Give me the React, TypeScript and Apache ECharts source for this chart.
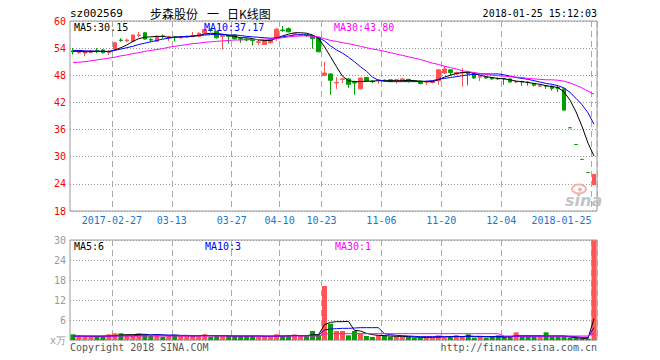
import React, { useEffect, useRef } from "react";
import * as echarts from "echarts";

const dates = [
  "2017-02-16", "2017-02-17", "2017-02-20", "2017-02-21", "2017-02-22", "2017-02-23", "2017-02-24", "2017-02-27",
  "2017-02-28", "2017-03-01", "2017-03-02", "2017-03-03", "2017-03-06", "2017-03-07", "2017-03-08", "2017-03-09",
  "2017-03-10", "2017-03-13", "2017-03-14", "2017-03-15", "2017-03-16", "2017-03-17", "2017-03-20", "2017-03-21",
  "2017-03-22", "2017-03-23", "2017-03-24", "2017-03-27", "2017-03-28", "2017-03-29", "2017-03-30", "2017-03-31",
  "2017-04-05", "2017-04-06", "2017-04-07", "2017-04-10", "2017-04-11", "2017-04-12", "2017-04-13", "2017-04-14",
  "2017-04-17", "2017-04-18", "2017-10-23", "2017-10-24", "2017-10-25", "2017-10-26", "2017-10-27", "2017-10-30",
  "2017-10-31", "2017-11-01", "2017-11-02", "2017-11-03", "2017-11-06", "2017-11-07", "2017-11-08", "2017-11-09",
  "2017-11-10", "2017-11-13", "2017-11-14", "2017-11-15", "2017-11-16", "2017-11-17", "2017-11-20", "2017-11-21",
  "2017-11-22", "2017-11-23", "2017-11-24", "2017-11-27", "2017-11-28", "2017-11-29", "2017-11-30", "2017-12-01",
  "2017-12-04", "2017-12-05", "2017-12-06", "2017-12-07", "2017-12-08", "2017-12-11", "2017-12-12", "2017-12-13",
  "2017-12-14", "2017-12-15", "2018-01-18", "2018-01-19", "2018-01-22", "2018-01-23", "2018-01-24", "2018-01-25",
];

const tickIndex = [7, 17, 27, 35, 42, 52, 62, 72, 87];
const tickLabels = ["2017-02-27", "03-13", "03-27", "04-10", "10-23", "11-06", "11-20", "12-04", "2018-01-25"];

// [open, close, low, high]
const ohlc = [
  [53.4, 53.2, 52.6, 54.0], [53.0, 53.3, 52.8, 53.5], [52.9, 53.2, 52.2, 53.4], [53.1, 53.3, 52.9, 53.6],
  [53.5, 53.4, 52.9, 54.0], [53.6, 53.0, 52.8, 53.8], [53.1, 53.2, 52.5, 53.5], [53.8, 55.2, 53.6, 55.4],
  [55.8, 55.7, 55.4, 56.2], [55.6, 55.8, 55.3, 56.1], [55.5, 56.9, 55.3, 57.0], [56.8, 56.9, 56.4, 57.6],
  [57.4, 56.0, 55.9, 57.5], [55.9, 55.8, 55.4, 56.2], [55.5, 56.6, 55.4, 56.8], [56.7, 56.6, 56.1, 57.0],
  [56.4, 56.5, 55.6, 56.7], [56.5, 56.4, 55.5, 56.7], [56.3, 56.5, 56.1, 56.7], [56.5, 56.6, 56.3, 56.8],
  [56.7, 56.8, 56.5, 57.6], [56.6, 57.3, 56.5, 57.5], [57.3, 58.1, 57.2, 58.3], [58.0, 57.9, 57.6, 58.4],
  [57.7, 56.3, 56.1, 57.8], [56.6, 56.8, 53.7, 57.0], [56.8, 56.6, 55.0, 57.0], [56.9, 56.1, 55.9, 57.0],
  [56.1, 56.0, 55.2, 56.5], [56.0, 55.8, 55.5, 56.2], [55.8, 55.7, 54.6, 56.0], [55.3, 55.4, 54.7, 55.8],
  [54.8, 55.6, 54.7, 55.8], [55.2, 56.0, 55.0, 56.1], [56.2, 58.2, 55.6, 58.4], [58.0, 57.9, 57.6, 58.9],
  [58.3, 57.6, 57.5, 58.6], [57.1, 57.2, 56.9, 57.4], [56.9, 57.0, 56.6, 57.1], [57.0, 56.8, 56.5, 57.1],
  [56.6, 56.1, 53.9, 56.7], [56.3, 53.2, 53.1, 56.5], [48.0, 48.5, 47.9, 51.0], [48.3, 46.9, 43.7, 48.4],
  [46.3, 46.4, 45.0, 47.6], [47.1, 47.2, 46.3, 47.3], [47.2, 46.0, 45.2, 47.3], [46.4, 46.3, 43.7, 46.8],
  [45.0, 47.4, 44.9, 47.5], [47.5, 46.7, 46.5, 47.6], [46.7, 46.6, 46.3, 46.9], [46.9, 47.0, 46.1, 47.1],
  [46.9, 46.8, 46.6, 47.1], [47.0, 46.6, 46.5, 47.1], [46.9, 47.0, 46.2, 47.1], [46.8, 47.2, 46.6, 47.3],
  [47.1, 46.8, 46.4, 47.2], [46.8, 46.7, 46.5, 46.9], [46.7, 46.2, 46.0, 46.8], [46.5, 46.6, 45.9, 46.8],
  [46.4, 46.7, 46.2, 46.8], [46.8, 49.2, 45.9, 49.3], [48.5, 49.4, 48.3, 50.1], [49.2, 48.6, 47.9, 49.3],
  [48.3, 48.6, 48.1, 48.8], [48.5, 48.6, 45.5, 49.6], [48.7, 48.4, 45.8, 49.0], [48.5, 47.4, 47.2, 48.6],
  [47.6, 47.7, 46.7, 47.9], [47.6, 47.4, 47.2, 47.8], [47.5, 47.2, 47.0, 47.6], [47.3, 47.2, 47.0, 47.5],
  [47.3, 47.2, 45.9, 47.4], [47.2, 46.5, 46.4, 47.3], [46.5, 46.6, 46.3, 46.9], [46.6, 46.5, 45.7, 46.8],
  [46.5, 46.4, 45.7, 46.7], [46.2, 45.8, 45.5, 46.3], [45.6, 45.7, 45.4, 46.0], [45.7, 45.6, 45.0, 45.8],
  [45.6, 45.1, 44.6, 45.7], [45.3, 45.0, 44.3, 45.7], [45.0, 40.3, 40.2, 45.1], [36.4, 36.4, 36.4, 36.4],
  [32.7, 32.7, 32.7, 32.7], [29.4, 29.4, 29.4, 29.4], [26.5, 26.5, 26.5, 26.5], [23.8, 26.1, 23.8, 26.1],
];

const ma5 = [
  53.3, 53.3, 53.2, 53.2, 53.3, 53.3, 53.2, 53.6, 54.1, 54.7, 55.5, 56.1, 56.4, 56.5, 56.6, 56.6,
  56.4, 56.4, 56.5, 56.5, 56.6, 56.8, 57.1, 57.3, 57.2, 57.1, 56.8, 56.6, 56.3, 56.3, 56.1, 55.8,
  55.7, 55.7, 56.2, 56.7, 57.1, 57.4, 57.4, 57.3, 56.9, 56.2, 54.3, 52.1, 49.9, 47.8, 46.8, 46.6,
  46.6, 46.7, 46.7, 46.8, 46.8, 46.8, 46.8, 46.8, 46.9, 46.8, 46.7, 46.6, 46.6, 47.0, 47.6, 48.0,
  48.4, 48.6, 48.7, 48.4, 48.0, 47.7, 47.5, 47.3, 47.2, 47.0, 46.7, 46.6, 46.4, 46.2, 46.0, 45.7,
  45.5, 45.3, 44.3, 42.5, 39.9, 36.7, 33.0, 30.15,
];
const ma10 = [
  53.5, 53.5, 53.4, 53.4, 53.3, 53.3, 53.3, 53.5, 53.8, 54.1, 54.4, 54.8, 55.1, 55.4, 55.7, 56.0,
  56.2, 56.4, 56.5, 56.6, 56.7, 56.8, 56.9, 57.0, 57.0, 57.0, 56.9, 56.9, 56.8, 56.6, 56.5, 56.4,
  56.3, 56.2, 56.3, 56.5, 56.7, 56.9, 57.0, 56.9, 56.8, 56.3, 55.6, 54.5, 53.6, 52.9, 52.0, 51.0,
  49.9, 48.9, 47.6, 46.9, 46.7, 46.6, 46.6, 46.6, 46.6, 46.6, 46.6, 46.7, 46.8, 47.1, 47.3, 47.5,
  47.7, 47.9, 48.1, 48.2, 48.3, 48.3, 48.3, 48.3, 48.1, 47.8, 47.5, 47.3, 47.1, 46.8, 46.5, 46.2,
  46.0, 45.7, 45.2, 44.2, 42.9, 41.5, 39.7, 37.17,
];
const ma30 = [
  50.8, 50.9, 51.0, 51.2, 51.4, 51.6, 51.8, 52.0, 52.3, 52.5, 52.8, 53.0, 53.3, 53.5, 53.7, 53.9,
  54.2, 54.4, 54.6, 54.8, 55.0, 55.1, 55.3, 55.4, 55.5, 55.6, 55.7, 55.8, 55.8, 55.9, 55.9, 55.9,
  56.0, 56.0, 56.1, 56.3, 56.5, 56.6, 56.7, 56.7, 56.6, 56.5, 56.1, 55.7, 55.5, 55.2, 55.0, 54.7,
  54.4, 54.1, 53.8, 53.6, 53.3, 53.0, 52.7, 52.4, 52.1, 51.8, 51.5, 51.1, 50.7, 50.4, 50.0, 49.7,
  49.4, 49.0, 48.8, 48.6, 48.4, 48.2, 48.0, 47.9, 47.8, 47.7, 47.6, 47.5, 47.3, 47.2, 47.1, 47.0,
  47.0, 46.9, 46.7, 46.3, 45.8, 45.2, 44.5, 43.8,
];

const volume = [
  1.7, 1.2, 1.0, 1.0, 1.0, 1.0, 1.7, 2.0, 2.0, 1.4, 1.4, 2.0, 1.6, 1.2, 1.6, 1.0,
  1.2, 1.6, 1.2, 1.2, 1.2, 1.2, 1.7, 1.0, 1.2, 1.2, 1.2, 1.2, 1.2, 1.2, 1.2, 1.0,
  1.2, 1.0, 1.7, 1.2, 1.2, 1.6, 1.2, 1.2, 2.7, 1.5, 16.2, 4.9, 2.7, 2.7, 1.4, 2.7,
  2.0, 1.2, 0.9, 1.4, 1.4, 1.0, 1.0, 1.0, 1.0, 0.7, 0.7, 1.0, 0.7, 1.4, 0.7, 1.0,
  1.4, 1.0, 1.7, 0.7, 1.0, 0.7, 1.2, 1.4, 1.0, 1.2, 2.3, 1.0, 1.0, 1.0, 1.0, 2.3,
  1.0, 1.0, 1.0, 0.7, 0.7, 0.4, 0.4, 29.9,
];
const volMa5 = [
  1.2, 1.2, 1.1, 1.1, 1.0, 1.1, 1.2, 1.3, 1.5, 1.6, 1.6, 1.7, 1.7, 1.5, 1.6, 1.5,
  1.3, 1.3, 1.3, 1.3, 1.2, 1.3, 1.4, 1.3, 1.3, 1.3, 1.2, 1.2, 1.2, 1.2, 1.2, 1.2,
  1.1, 1.1, 1.2, 1.2, 1.3, 1.4, 1.3, 1.3, 1.6, 1.6, 4.6, 5.3, 5.5, 5.5, 5.6, 2.9,
  2.7, 2.0, 1.6, 1.4, 1.3, 1.2, 1.1, 1.1, 1.0, 0.9, 0.8, 0.8, 0.8, 0.9, 0.9, 1.0,
  1.1, 1.0, 1.2, 1.1, 1.1, 1.0, 1.0, 1.0, 0.9, 1.0, 1.3, 1.3, 1.3, 1.3, 1.3, 1.2,
  1.2, 1.2, 1.2, 0.9, 0.7, 0.5, 0.5, 6.4,
];
const volMa10 = [
  1.2, 1.2, 1.2, 1.2, 1.2, 1.2, 1.2, 1.2, 1.3, 1.3, 1.3, 1.4, 1.5, 1.5, 1.6, 1.5,
  1.5, 1.5, 1.4, 1.4, 1.3, 1.3, 1.3, 1.3, 1.3, 1.3, 1.3, 1.2, 1.2, 1.2, 1.2, 1.2,
  1.2, 1.2, 1.2, 1.2, 1.2, 1.3, 1.3, 1.3, 1.4, 1.4, 3.0, 3.3, 3.4, 3.5, 3.5, 3.6,
  3.7, 3.7, 3.7, 3.7, 1.9, 1.6, 1.4, 1.3, 1.2, 1.1, 1.0, 1.0, 1.0, 1.0, 1.0, 1.0,
  1.0, 1.0, 1.1, 1.0, 1.0, 1.0, 1.0, 1.0, 1.0, 1.0, 1.1, 1.1, 1.1, 1.1, 1.1, 1.2,
  1.2, 1.2, 1.2, 1.1, 1.0, 0.8, 0.8, 3.7,
];
const volMa30 = [
  1.2, 1.2, 1.2, 1.2, 1.2, 1.2, 1.2, 1.2, 1.2, 1.2, 1.2, 1.2, 1.2, 1.2, 1.2, 1.2,
  1.2, 1.2, 1.2, 1.2, 1.2, 1.2, 1.2, 1.2, 1.2, 1.2, 1.2, 1.2, 1.2, 1.2, 1.2, 1.2,
  1.2, 1.2, 1.2, 1.2, 1.2, 1.2, 1.2, 1.2, 1.2, 1.2, 1.8, 1.9, 1.9, 1.9, 1.9, 1.9,
  1.9, 1.9, 1.9, 1.9, 1.9, 1.9, 1.9, 1.9, 1.9, 1.9, 1.9, 1.9, 1.9, 1.9, 1.9, 1.9,
  1.9, 1.9, 1.9, 1.9, 1.9, 1.9, 1.9, 1.9, 1.2, 1.2, 1.2, 1.2, 1.2, 1.2, 1.2, 1.2,
  1.2, 1.2, 1.2, 1.2, 1.2, 1.2, 1.2, 2.0,
];

const stockCode = "sz002569";
const stockName = "步森股份";
const chartKind = "日K线图";
const timestamp = "2018-01-25 15:12:03";
const priceLegend = ["MA5:30.15", "MA10:37.17", "MA30:43.80"];
const volLegend = ["MA5:6", "MA10:3", "MA30:1"];

const RED = "#ff5454";
const GREEN = "#00a000";
const MONO = '"DejaVu Sans Mono", "Liberation Mono", monospace';
const CJK = '"Noto Sans CJK SC", sans-serif';

export default function App() {
  const ref = useRef<HTMLDivElement>(null);

  useEffect(() => {
    document.body.style.margin = "0";
    const chart = echarts.init(ref.current!, undefined, { renderer: "svg" });

    const volData = volume.map((v, i) => {
      const [o, c] = ohlc[i];
      let up = c > o;
      if (c === o) up = i > 0 ? ohlc[i - 1][1] <= c : true;
      return { value: v, itemStyle: { color: up ? RED : GREEN } };
    });

    const showTick = (index: number) => tickIndex.indexOf(index) >= 0;
    const lastTick = tickIndex[tickIndex.length - 1];

    const vSplit = {
      show: true,
      interval: showTick,
      lineStyle: { color: "#aaaaaa", type: [6, 4], width: 1 },
    };
    const hSplit = { show: true, lineStyle: { color: "#999999", type: [1, 2], width: 1 } };

    const lineSeries = (name: string, data: number[], color: string, xi: number) => ({
      name,
      type: "line",
      data,
      xAxisIndex: xi,
      yAxisIndex: xi,
      symbol: "none",
      showSymbol: false,
      lineStyle: { color, width: 1 },
      itemStyle: { color },
      z: 3,
    });

    const text = (x: number, y: number, t: string, fill: string, font: string, align = "left") => ({
      type: "text",
      x,
      y,
      z: 100,
      style: { text: t, fill, font, textAlign: align, textVerticalAlign: "middle" },
    });

    chart.setOption({
      animation: false,
      backgroundColor: "#ffffff",
      grid: [
        { left: 70, right: 63, top: 21, height: 190, show: true, borderColor: "#999999", borderWidth: 1, backgroundColor: "transparent" },
        { left: 70, right: 63, top: 240, height: 100, show: true, borderColor: "#999999", borderWidth: 1, backgroundColor: "transparent" },
      ],
      xAxis: [
        {
          type: "category",
          gridIndex: 0,
          data: dates,
          boundaryGap: true,
          axisLine: { show: false },
          axisTick: { show: false },
          axisLabel: {
            interval: showTick,
            color: "#1677cc",
            fontFamily: MONO,
            fontSize: 10,
            margin: 4,
            padding: [0, 6, 0, 0],
            formatter: (_v: string, index: number) => {
              const k = tickIndex.indexOf(index);
              const t = k >= 0 ? tickLabels[k] : "";
              return index === lastTick ? `{r|${t}}` : t;
            },
            rich: {
              r: { color: "#1677cc", fontFamily: MONO, fontSize: 10, padding: [0, 59, 0, 0] },
            },
          },
          splitLine: vSplit,
        },
        {
          type: "category",
          gridIndex: 1,
          data: dates,
          boundaryGap: true,
          axisLine: { show: false },
          axisTick: { show: false },
          axisLabel: { show: false },
          splitLine: vSplit,
        },
      ],
      yAxis: [
        {
          type: "value",
          gridIndex: 0,
          min: 18,
          max: 60,
          interval: 6,
          axisLine: { show: false },
          axisTick: { show: false },
          axisLabel: { color: "#ff0000", fontFamily: MONO, fontSize: 10, margin: 4 },
          splitLine: hSplit,
        },
        {
          type: "value",
          gridIndex: 1,
          min: 0,
          max: 30,
          interval: 6,
          axisLine: { show: false },
          axisTick: { show: false },
          axisLabel: {
            color: "#999999",
            fontFamily: MONO,
            fontSize: 10,
            margin: 4,
            formatter: (v: number) => (v === 0 ? "x万" : String(v)),
          },
          splitLine: hSplit,
        },
      ],
      series: [
        {
          type: "candlestick",
          xAxisIndex: 0,
          yAxisIndex: 0,
          data: ohlc,
          barWidth: 4,
          itemStyle: { color: RED, color0: GREEN, borderColor: RED, borderColor0: GREEN, borderWidth: 1 },
          z: 2,
        },
        lineSeries("MA5", ma5, "#000000", 0),
        lineSeries("MA10", ma10, "#0000ff", 0),
        lineSeries("MA30", ma30, "#ff00ff", 0),
        {
          type: "bar",
          xAxisIndex: 1,
          yAxisIndex: 1,
          data: volData,
          barWidth: 5,
          z: 2,
        },
        lineSeries("VMA5", volMa5, "#000000", 1),
        lineSeries("VMA10", volMa10, "#0000ff", 1),
        lineSeries("VMA30", volMa30, "#ff00ff", 1),
      ],
      graphic: [
        text(70, 13, stockCode, "#000000", `11px ${MONO}`),
        text(150, 13, stockName, "#000000", `12px ${CJK}`),
        text(207, 13, "一", "#000000", `12px ${CJK}`),
        text(227, 13, chartKind, "#000000", `12px ${CJK}`),
        text(597, 13, timestamp, "#000000", `10px ${MONO}`, "right"),
        text(74, 27, priceLegend[0], "#000000", `10px ${MONO}`),
        text(204, 27, priceLegend[1], "#0000ff", `10px ${MONO}`),
        text(334, 27, priceLegend[2], "#ff00ff", `10px ${MONO}`),
        text(74, 246, volLegend[0], "#000000", `10px ${MONO}`),
        text(205, 246, volLegend[1], "#0000ff", `10px ${MONO}`),
        text(335, 246, volLegend[2], "#ff00ff", `10px ${MONO}`),
        text(70, 347, "Copyright 2018 SINA.COM", "#555555", `10px ${MONO}`),
        text(597, 347, "http://finance.sina.com.cn", "#555555", `10px ${MONO}`, "right"),
        {
          type: "ellipse",
          z: 90,
          shape: { cx: 579, cy: 189, rx: 7, ry: 4.5 },
          style: { fill: "none", stroke: "#f6b0b0", lineWidth: 2 },
        },
        {
          type: "circle",
          z: 90,
          shape: { cx: 580, cy: 189.5, r: 2 },
          style: { fill: "#f6b0b0" },
        },
        text(565, 200, "sina", "#c4c4c4", `italic bold 16px "DejaVu Sans", sans-serif`),
      ],
    });

    return () => chart.dispose();
  }, []);

  return <div ref={ref} style={{ position: "absolute", left: 0, top: 0, width: 660, height: 360 }} />;
}
